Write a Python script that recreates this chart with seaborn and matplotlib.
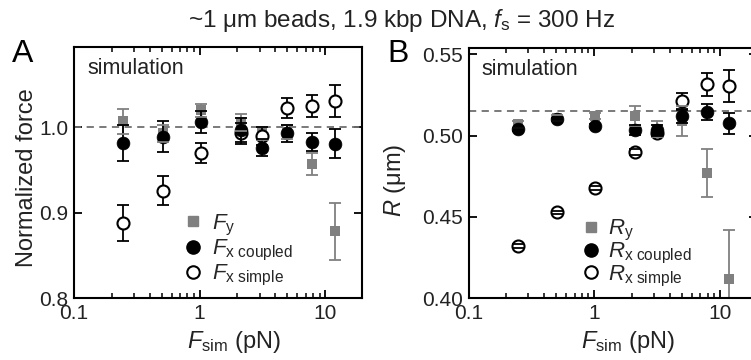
import numpy as np
import pandas as pd
import matplotlib
matplotlib.use("Agg")
import matplotlib.pyplot as plt
import seaborn as sns
from matplotlib.lines import Line2D

sns.set_theme(style="ticks")
plt.rcParams['font.family'] = ['Liberation Sans', 'DejaVu Sans']
plt.rcParams['mathtext.fontset'] = 'custom'
plt.rcParams['mathtext.rm'] = 'Liberation Sans'
plt.rcParams['mathtext.it'] = 'Liberation Sans:italic'
plt.rcParams['mathtext.bf'] = 'Liberation Sans:bold'

# ---------------- data ----------------
f_sim = [0.247, 0.51, 1.02, 2.12, 3.15, 5.0, 7.9, 11.9]

# Panel A: normalized force
Fy = [1.007, 0.993, 1.020, 1.006, 0.993, 0.995, 0.957, 0.878]
Fy_err = [0.015, 0.010, 0.008, 0.010, 0.008, 0.008, 0.013, 0.033]
Fx_coupled = [0.982, 0.989, 1.006, 0.997, 0.976, 0.993, 0.983, 0.981]
Fx_coupled_err = [0.021, 0.018, 0.013, 0.014, 0.010, 0.010, 0.011, 0.017]
Fx_simple = [0.888, 0.926, 0.970, 0.993, 0.990, 1.023, 1.025, 1.031]
Fx_simple_err = [0.021, 0.017, 0.012, 0.012, 0.010, 0.012, 0.013, 0.019]

# Panel B: radius (um)
Ry = [0.507, 0.511, 0.512, 0.512, 0.504, 0.509, 0.477, 0.412]
Ry_err = [0.002, 0.002, 0.002, 0.006, 0.005, 0.009, 0.015, 0.030]
Rx_coupled = [0.504, 0.510, 0.506, 0.5037, 0.5037, 0.5119, 0.5147, 0.5076]
Rx_coupled_err = [0.001, 0.001, 0.001, 0.003, 0.003, 0.004, 0.005, 0.0065]
Rx_simple = [0.432, 0.4527, 0.4678, 0.4898, 0.5015, 0.5214, 0.5316, 0.5306]
Rx_simple_err = [0.001, 0.001, 0.001, 0.002, 0.002, 0.005, 0.007, 0.010]

refA = 1.0
refB = 0.515

title = r"~1 μm beads, 1.9 kbp DNA, $f_\mathrm{s}$ = 300 Hz"
# ---------------------------------------

W, H = 751, 360
fig = plt.figure(figsize=(W / 100, H / 100), dpi=100)
axA = fig.add_axes([74 / W, 62 / H, 288 / W, 250.7 / H])
axB = fig.add_axes([468.5 / W, 62 / H, 288 / W, 250 / H])

gray = '#808080'
txt = '#222222'


def eb(ax, y, e, color, z):
    _, caps, bars = ax.errorbar(f_sim, y, yerr=e, fmt='none', ecolor=color, elinewidth=1.3,
                                capsize=4, capthick=1.3, zorder=z)
    for c in caps:
        c.set_zorder(z + 10)


def draw(ax, y_sq, e_sq, y_fc, e_fc, y_oc, e_oc, labels):
    df = pd.DataFrame({'x': f_sim, 'sq': y_sq, 'fc': y_fc, 'oc': y_oc})
    eb(ax, y_sq, e_sq, gray, 2)
    sns.scatterplot(data=df, x='x', y='sq', ax=ax, marker='s', s=55, color=gray,
                    edgecolor=gray, linewidth=0, zorder=3, legend=False)
    eb(ax, y_oc, e_oc, 'black', 4)
    sns.scatterplot(data=df, x='x', y='oc', ax=ax, marker='o', s=75, color='white',
                    edgecolor='black', linewidth=1.5, zorder=5, legend=False)
    eb(ax, y_fc, e_fc, 'black', 6)
    sns.scatterplot(data=df, x='x', y='fc', ax=ax, marker='o', s=85, color='black',
                    edgecolor='black', linewidth=0.5, zorder=7, legend=False)
    handles = [
        Line2D([], [], marker='s', ls='none', color=gray, markersize=7.5, label=labels[0]),
        Line2D([], [], marker='o', ls='none', color='black', markersize=9.5, label=labels[1]),
        Line2D([], [], marker='o', ls='none', markerfacecolor='white', markeredgecolor='black',
               markeredgewidth=1.5, markersize=9, label=labels[2]),
    ]
    return handles


hA = draw(axA, Fy, Fy_err, Fx_coupled, Fx_coupled_err, Fx_simple, Fx_simple_err,
          [r'$F_\mathrm{y}$', r'$F_\mathrm{x\ coupled}$', r'$F_\mathrm{x\ simple}$'])
hB = draw(axB, Ry, Ry_err, Rx_coupled, Rx_coupled_err, Rx_simple, Rx_simple_err,
          [r'$R_\mathrm{y}$', r'$R_\mathrm{x\ coupled}$', r'$R_\mathrm{x\ simple}$'])

for ax, ref in ((axA, refA), (axB, refB)):
    ax.axhline(ref, color='#707070', ls=(0, (4, 3)), lw=1.3, zorder=1)
    ax.set_xscale('log')
    ax.set_xlim(0.1, 19.6)
    ax.set_xticks([0.1, 1, 10])
    ax.set_xticklabels(['0.1', '1', '10'])
    ax.tick_params(axis='both', which='both', direction='in', top=True, right=True,
                   labelsize=15, colors='black', labelcolor=txt)
    ax.tick_params(which='major', length=6, width=1.3, pad=4)
    ax.tick_params(which='minor', length=3.5, width=1.1)
    ax.tick_params(axis='y', which='minor', left=False, right=False)
    for s in ax.spines.values():
        s.set_linewidth(1.5)
        s.set_color('black')
    ax.set_xlabel(r'$F_\mathrm{sim}$ (pN)', fontsize=17, color=txt)
    ax.xaxis.set_label_coords(0.555, -0.125)
    ax.text(0.045, 0.915, 'simulation', transform=ax.transAxes, fontsize=15.5,
            color=txt, va='center', ha='left')

axA.set_ylim(0.8, 1.094)
axA.set_yticks([0.8, 0.9, 1.0])
axA.set_yticklabels(['0.8', '0.9', '1.0'])
axA.set_ylabel('Normalized force', fontsize=17, color=txt)
axA.yaxis.set_label_coords(-0.125, 0.48)

axB.set_ylim(0.40, 0.554)
axB.set_yticks([0.40, 0.45, 0.50, 0.55])
axB.set_yticklabels(['0.40', '0.45', '0.50', '0.55'])
axB.set_ylabel(r'$R$ (μm)', fontsize=17, color=txt)
axB.yaxis.set_label_coords(-0.211, 0.47)

axA.legend(handles=hA, loc='upper left', bbox_to_anchor=(0.375, 0.34), frameon=False,
           fontsize=16, handletextpad=0.35, labelspacing=0.0, handlelength=1.0,
           borderaxespad=0, borderpad=0)
axB.legend(handles=hB, loc='upper left', bbox_to_anchor=(0.388, 0.32), frameon=False,
           fontsize=16, handletextpad=0.25, labelspacing=-0.1, handlelength=1.0,
           borderaxespad=0, borderpad=0)

fig.text(401 / W, 1 - 20 / H, title, fontsize=17.5, ha='center', va='center', color=txt)
fig.text(12 / W, 1 - 54 / H, 'A', fontsize=23, ha='left', va='center', color='black')
fig.text(387 / W, 1 - 54 / H, 'B', fontsize=23, ha='left', va='center', color='black')

fig.savefig('out.png', dpi=100)
